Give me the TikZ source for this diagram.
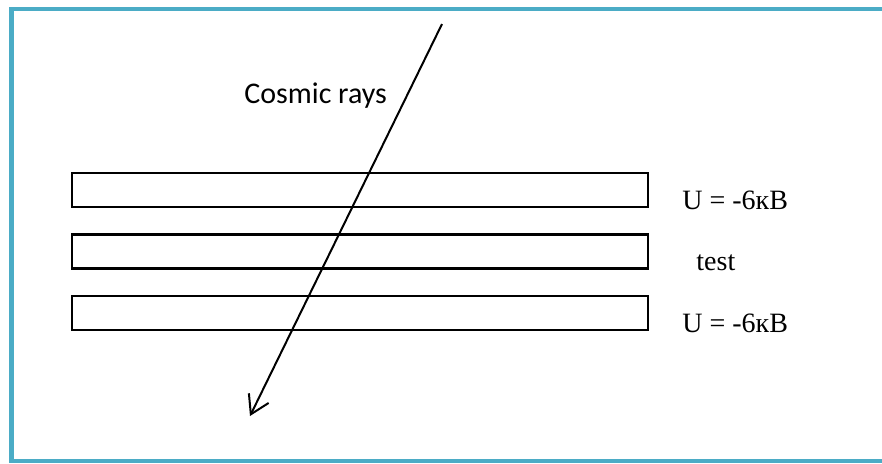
\documentclass[tikz,border=0pt]{standalone}
\usepackage{fontspec}
\setmainfont{Liberation Serif}
\newfontfamily\raysans{Carlito}
\usetikzlibrary{arrows.meta}
\definecolor{frameblue}{HTML}{4BACC6}
\definecolor{ink}{HTML}{000000}

\tikzset{
  plate/.style={draw=ink,line width=1.35pt,minimum width=288pt,minimum height=17pt,inner sep=0pt},
  volt/.style={anchor=base west,inner sep=0pt,text=ink},
  ray/.style={draw=ink,line width=1pt,-{Straight Barb[length=9pt,width=11pt,line width=1pt]}}
}

\begin{document}
\begin{tikzpicture}[x=0.5pt,y=-0.5pt,font=\fontsize{14}{16}\selectfont]
  \useasboundingbox (0,0) rectangle (882,463);
  % frame
  \draw[frameblue,line width=2.25pt] (892,9.2) -- (11.5,9.2) -- (11.5,460.8) -- (892,460.8);
  % plates
  \foreach \i/\y in {1/190,2/251.3,3/313}{
    \node[plate] (plate\i) at (360,\y) {};}
  % labels
  \node[volt] (uup)  at (682,209)   {U = -6кВ};
  \node[volt] (test) at (696,270)   {test};
  \node[volt] (ulow) at (682,332.7) {U = -6кВ};
  % ray
  \coordinate (rayin)  at (442,24);
  \coordinate (rayout) at (250,416);
  \draw[ray] (rayin) -- (rayout);
  \node[anchor=base west,inner sep=0pt,font=\raysans\fontsize{15}{18}\selectfont] (raylbl) at (244,103) {Cosmic rays};
\end{tikzpicture}
\end{document}
